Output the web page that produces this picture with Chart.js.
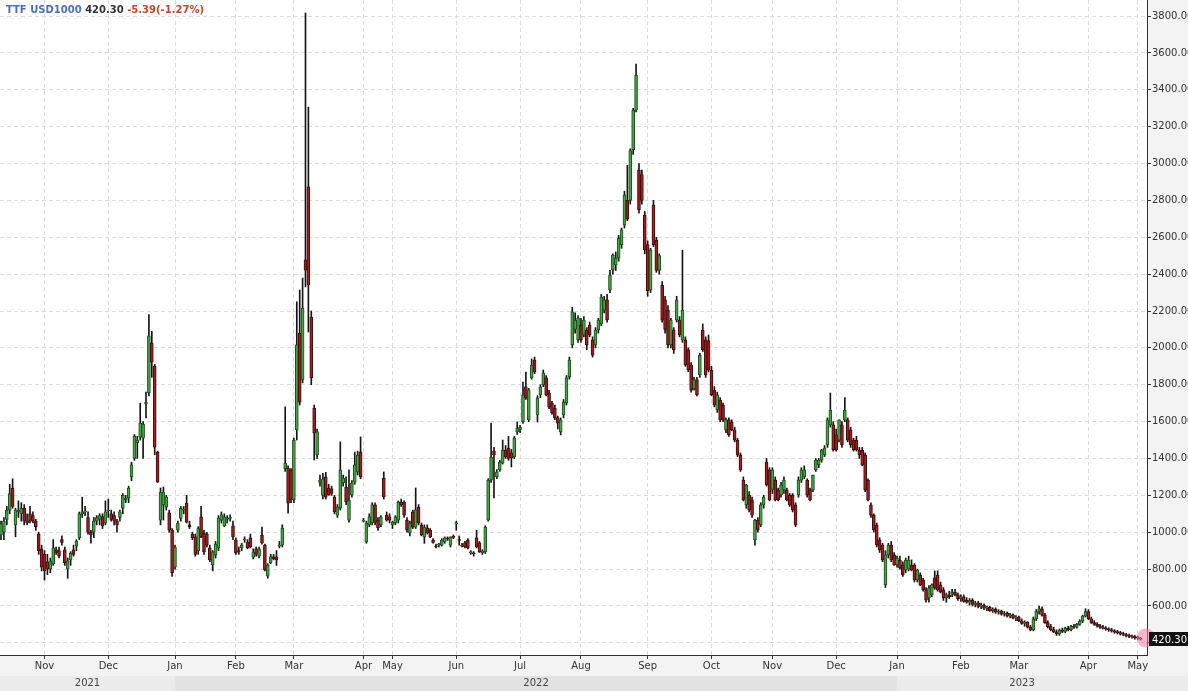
<!DOCTYPE html>
<html>
<head>
<meta charset="utf-8">
<script src="https://cdn.jsdelivr.net/npm/chart.js@4.4.1/dist/chart.umd.min.js"></script>
<style>
html,body{margin:0;padding:0;background:#fff;overflow:hidden;}
#wrap{position:relative;width:1188px;height:691px;}
#c{position:absolute;left:0;top:0;}
#title{position:absolute;left:6px;top:3px;font:bold 10px "DejaVu Sans",sans-serif;white-space:pre;z-index:2;line-height:13px;}
#title .sym{color:#4a70b8;}
#title .px{color:#333;}
#title .chg{color:#c8432b;}
</style>
</head>
<body>
<div id="wrap">
<canvas id="c" width="1188" height="691"></canvas>
<div id="title"><span class="sym">TTF USD1000</span> <span class="px">420.30</span> <span class="chg">-5.39(-1.27%)</span></div>
</div>
<script>
const opens=[
985,1000,1070,1120,1240,1040,1110,1100,1130,1060,
1100,1090,1060,990,910,880,840,800,830,905,
900,960,905,800,850,905,925,970,1100,1110,
1080,1000,1000,1060,1070,1085,1050,1115,1100,1090,
1060,1080,1130,1175,1185,1300,1400,1485,1515,1510,
1695,1755,2026,1900,1435,1066,1148,1137,1105,1012,
810,1012,1075,1120,1158,1040,990,975,900,1083,
996,990,915,822,876,915,1066,1034,1070,1075,
1034,958,900,915,958,947,969,865,910,870,
985,930,762,833,866,866,925,930,1345,1348,
1338,1175,1555,2080,1826,2477,2873,2167,1674,1419,
1270,1200,1300,1240,1235,1191,1093,1131,1267,1245,
1066,1202,1272,1327,1435,1060,947,1039,1050,1148,
1066,1039,1294,1093,1083,1039,1050,1066,1164,1164,
1066,996,1110,1028,1137,1039,975,1023,1012,958,
925,930,930,947,965,930,975,1045,960,930,
942,958,888,885,969,942,888,893,1066,1283,
1440,1300,1338,1375,1446,1457,1430,1408,1544,1555,
1598,1788,1609,1837,1934,1636,1745,1799,1837,1755,
1701,1674,1620,1544,1636,1701,1842,2016,2100,2043,
2124,2070,2097,2124,2043,2016,2097,2130,2205,2260,
2314,2422,2450,2487,2560,2666,2800,2800,3075,3290,
2965,2940,2720,2560,2314,2775,2585,2420,2340,2260,
2205,2016,2097,2151,2151,2043,2043,1990,1907,1780,
1826,1853,2097,2043,2040,1880,1771,1663,1717,1690,
1555,1609,1598,1555,1500,1419,1283,1148,1202,1175,
958,1066,1039,1148,1381,1338,1229,1283,1229,1202,
1229,1229,1202,1202,1148,1202,1283,1300,1283,1229,
1229,1338,1365,1392,1420,1473,1582,1582,1528,1500,
1582,1609,1609,1555,1500,1500,1446,1446,1419,1283,
1148,1093,1039,958,930,714,877,930,877,822,
849,822,795,800,822,822,741,768,741,687,
643,660,752,768,714,687,643,660,665,675,
660,640,650,630,620,630,608,615,598,605,
588,592,575,583,566,572,556,562,545,552,
534,540,520,505,512,485,470,530,570,585,
550,510,488,472,460,448,468,462,478,472,
488,485,500,518,545,570,530,510,500,492,
485,480,475,470,465,458,455,448,445,438,
436,432,428,425.69];
const highs=[
1060,1080,1140,1260,1290,1130,1170,1160,1150,1100,
1140,1110,1070,1000,930,900,880,860,960,920,
920,980,920,860,895,930,960,1110,1190,1140,
1110,1010,1080,1090,1100,1100,1170,1180,1120,1110,
1070,1120,1210,1200,1250,1380,1530,1520,1700,1600,
1760,2180,2090,1910,1440,1240,1245,1200,1120,1020,
930,1060,1140,1140,1200,1060,1000,990,1030,1140,
1010,1000,930,900,950,1090,1110,1100,1090,1095,
1060,970,920,940,975,960,990,910,920,920,
1028,935,830,880,880,900,950,1040,1680,1360,
1345,1510,2250,2314,2379,3816,3306,2200,1690,1560,
1310,1320,1325,1260,1250,1200,1150,1490,1310,1300,
1338,1280,1435,1440,1517,1075,1060,1100,1160,1160,
1080,1090,1327,1110,1100,1060,1090,1170,1180,1170,
1080,1060,1120,1240,1150,1050,1040,1040,1020,965,
935,940,965,975,975,975,985,1060,980,940,
950,965,900,895,1010,950,905,1035,1290,1592,
1460,1340,1390,1500,1470,1520,1450,1520,1598,1580,
1815,1869,1780,1940,1950,1740,1800,1880,1850,1770,
1710,1690,1630,1620,1720,1850,1950,2220,2190,2175,
2160,2170,2110,2140,2060,2110,2160,2290,2280,2290,
2420,2510,2520,2610,2650,2850,2990,3080,3300,3540,
3000,2965,2740,2580,2540,2800,2600,2510,2360,2280,
2230,2160,2110,2280,2170,2530,2060,2000,1920,1840,
1840,1970,2130,2060,2070,1900,1790,1760,1730,1700,
1620,1620,1610,1570,1510,1430,1300,1260,1220,1190,
1070,1080,1160,1200,1400,1350,1350,1300,1240,1270,
1300,1240,1210,1210,1160,1300,1350,1360,1290,1240,
1310,1400,1400,1450,1470,1620,1755,1600,1560,1610,
1600,1730,1620,1570,1510,1520,1460,1460,1430,1290,
1160,1100,1050,970,940,900,940,950,890,870,
870,840,860,870,850,830,800,780,750,700,
710,720,790,790,730,700,670,680,690,690,
670,660,660,645,640,640,625,625,615,612,
600,598,590,590,580,578,570,568,560,558,
548,545,530,520,515,495,540,580,600,595,
560,520,500,485,470,475,480,485,490,495,
500,505,525,550,585,580,540,520,510,500,
495,488,482,478,472,468,462,458,452,448,
442,440,436,430];
const lows=[
960,960,1040,1100,1130,975,1080,1060,1040,1040,
1050,1050,1010,880,790,740,770,780,820,880,
860,930,820,750,820,870,900,960,1080,1090,
990,940,970,1040,1040,1020,1040,1080,1060,1040,
1000,1060,1100,1160,1160,1280,1390,1400,1500,1400,
1620,1740,1840,1420,1270,1040,1066,1120,1000,760,
800,1000,1060,1100,1050,1020,960,870,880,970,
880,920,840,790,860,900,1050,1030,1050,1060,
960,880,880,900,945,910,915,855,870,860,
935,790,750,830,850,820,915,920,1330,1104,
1160,1160,1500,1690,1810,2330,2086,1800,1392,1400,
1250,1180,1180,1200,1200,1100,1080,1120,1250,1150,
1055,1190,1260,1310,1290,1055,940,1030,1040,1040,
1010,1030,1180,1060,1050,1020,1040,1050,1140,1080,
1000,980,1020,1020,1040,980,940,990,970,940,
915,920,925,940,955,920,965,1010,930,920,
915,910,880,870,915,890,880,885,1060,1270,
1186,1290,1330,1370,1400,1390,1354,1400,1530,1540,
1590,1720,1600,1830,1860,1598,1730,1790,1740,1670,
1640,1610,1560,1528,1620,1690,1830,2000,2080,2030,
2030,2060,1990,2060,1950,2000,2080,2120,2190,2140,
2300,2400,2420,2470,2540,2650,2690,2780,3050,3280,
2730,2780,2510,2280,2300,2550,2410,2400,2140,2080,
2000,2000,1970,2140,2060,2030,1900,1870,1760,1770,
1740,1840,1980,1840,1870,1740,1680,1650,1600,1600,
1540,1520,1550,1490,1410,1330,1170,1130,1110,1080,
930,1000,1030,1130,1250,1170,1210,1170,1170,1190,
1210,1170,1140,1110,1030,1190,1270,1290,1190,1170,
1220,1330,1350,1380,1410,1460,1570,1440,1440,1490,
1460,1600,1490,1460,1440,1440,1400,1360,1220,1170,
1080,1000,920,890,840,700,860,840,820,810,
800,760,780,790,790,730,730,710,680,620,
620,650,690,680,670,630,620,640,650,655,
630,625,620,615,605,600,595,590,585,580,
575,570,565,560,555,550,545,540,535,530,
520,515,500,490,480,465,465,520,555,545,
505,480,465,455,440,440,455,455,465,465,
478,480,495,510,540,525,505,495,485,478,
475,468,462,458,452,448,442,438,432,428,
425,420,418,415];
const closes=[
1045,1060,1120,1210,1140,1120,1120,1130,1060,1050,
1060,1060,1030,900,810,790,800,845,915,890,
870,945,835,845,885,880,950,1100,1110,1115,
1000,985,1060,1080,1090,1035,1110,1120,1070,1060,
1040,1110,1200,1185,1240,1365,1520,1500,1590,1585,
1705,2065,1923,1462,1272,1218,1218,1191,1012,779,
920,1050,1130,1125,1055,1030,970,880,1020,975,
893,930,850,893,936,1077,1094,1083,1075,1080,
975,888,895,930,960,915,920,893,880,910,
942,795,822,866,855,850,930,1023,1375,1158,
1175,1500,2016,1706,2216,2422,2341,1837,1538,1544,
1283,1290,1190,1202,1210,1110,1137,1338,1294,1164,
1175,1267,1365,1419,1300,1066,1050,1083,1148,1055,
1023,1083,1191,1066,1066,1055,1083,1164,1148,1093,
1012,1050,1028,1121,1050,985,1028,996,975,945,
920,935,958,969,963,975,972,1045,955,925,
920,915,888,883,920,893,898,1028,1283,1408,
1420,1327,1381,1446,1410,1400,1405,1511,1565,1571,
1745,1728,1772,1907,1869,1728,1788,1864,1745,1679,
1647,1620,1592,1609,1706,1837,1934,2195,2150,2162,
2043,2151,2016,2070,1961,2097,2151,2276,2260,2151,
2395,2504,2487,2596,2640,2830,2700,3070,3290,3480,
2750,2800,2530,2310,2530,2560,2420,2500,2150,2100,
2016,2151,1990,2260,2070,2205,1907,1880,1771,1826,
1745,1960,1990,1853,1880,1745,1690,1745,1609,1609,
1609,1528,1555,1500,1419,1338,1175,1256,1121,1093,
1066,1012,1148,1191,1256,1175,1338,1175,1175,1256,
1283,1175,1148,1121,1039,1283,1338,1338,1202,1175,
1310,1392,1392,1446,1457,1609,1663,1446,1446,1609,
1473,1663,1500,1473,1446,1446,1420,1365,1229,1175,
1093,1012,931,904,850,877,930,850,822,860,
806,768,849,849,795,741,795,714,687,632,
697,714,697,687,676,643,660,650,675,660,
640,650,625,620,630,608,615,598,605,588,
592,575,583,566,572,556,562,545,552,534,
540,520,505,512,485,470,530,570,585,550,
510,488,472,460,448,468,462,478,472,488,
485,500,518,545,570,530,510,500,492,485,
480,475,470,465,458,455,448,445,438,436,
432,428,425.69,420.3];

const monthTickIdx=[15,37,60,81,101,125,135,157,179,200,223,245,266,288,309,331,351,375,392];
const monthTickLabels=['Nov','Dec','Jan','Feb','Mar','Apr','May','Jun','Jul','Aug','Sep','Oct','Nov','Dec','Jan','Feb','Mar','Apr','May'];
const yearLabels=['2021','2022','2023'];
const yMin=334, yMax=3887, yStep=200;
const xMin=-0.35, xMax=395.2;

const n=closes.length;
if(opens.length!==n||highs.length!==n||lows.length!==n){
  throw new Error('length mismatch o'+opens.length+' h'+highs.length+' l'+lows.length+' c'+n);
}
const up=i=>closes[i]>=opens[i];
const wickData=lows.map((l,i)=>({x:i,y:[l,highs[i]]}));
const bodyData=opens.map((o,i)=>({x:i,y:[o,closes[i]]}));

const GREEN='#44a544', GREEN_B='#1f4d1f', RED='#9e2020', RED_B='#3d0c0c';
const FONT='"DejaVu Sans", sans-serif';

const deco={
  id:'deco',
  beforeDraw(chart){
    const {ctx,chartArea:a,width:W,height:H,scales:{x}}=chart;
    ctx.save();
    ctx.fillStyle='#ffffff'; ctx.fillRect(0,0,W,H);
    ctx.fillStyle='#f3f3f3';
    ctx.fillRect(a.right,0,W-a.right,a.bottom);
    const bandTop=a.bottom+21;
    ctx.fillRect(0,a.bottom,W,bandTop-a.bottom);
    const breaks=monthTickIdx.filter((v,i)=>monthTickLabels[i]==='Jan').map(v=>x.getPixelForValue(v));
    const starts=[0,...breaks], ends=[...breaks,W];
    yearLabels.forEach((lab,i)=>{
      ctx.fillStyle=(i%2)?'#e2e2e2':'#ececec';
      ctx.fillRect(starts[i],bandTop,ends[i]-starts[i],H-bandTop);
      const te=Math.min(ends[i],a.right);
      ctx.fillStyle='#444'; ctx.font='10px '+FONT;
      ctx.textAlign='center'; ctx.textBaseline='middle';
      ctx.fillText(lab,(starts[i]+te)/2,(bandTop+H)/2);
    });
    ctx.restore();
  },
  afterDraw(chart){
    const {ctx,chartArea:a,width:W,scales:{y}}=chart;
    const last=closes[n-1];
    const py=Math.round(y.getPixelForValue(last));
    ctx.save();
    ctx.fillStyle='rgba(242,120,165,0.55)';
    ctx.beginPath(); ctx.arc(a.right-1,py-1,9.5,0,Math.PI*2); ctx.fill();
    ctx.fillStyle='#111';
    ctx.fillRect(a.right+2,py-7,W-a.right-2,14);
    ctx.fillStyle='#fff'; ctx.font='10px '+FONT;
    ctx.textAlign='left'; ctx.textBaseline='middle';
    ctx.fillText(last.toFixed(2),a.right+5,py+1);
    ctx.restore();
  }
};

new Chart(document.getElementById('c'),{
  type:'bar',
  data:{datasets:[
    {label:'wick',data:wickData,stack:'c',order:1,barThickness:1,backgroundColor:'#151515',borderWidth:0},
    {label:'body',data:bodyData,stack:'c',order:0,barThickness:3,minBarLength:1,borderSkipped:false,borderWidth:1,
     backgroundColor:c=>up(c.dataIndex)?GREEN:RED,
     borderColor:c=>up(c.dataIndex)?GREEN_B:RED_B}
  ]},
  options:{
    responsive:false,animation:false,events:[],
    layout:{padding:0},
    plugins:{legend:{display:false},tooltip:{enabled:false},title:{display:false}},
    scales:{
      x:{type:'linear',min:xMin,max:xMax,offset:false,
        grid:{offset:false,color:'#dcdcdc',lineWidth:1,drawTicks:true,tickLength:4,tickColor:'#333'},
        border:{display:true,color:'#333',width:1,dash:[4,3]},
        ticks:{autoSkip:false,maxRotation:0,padding:1,color:'#333',font:{family:FONT,size:10},
          callback:(v,i)=>monthTickLabels[i]},
        afterBuildTicks:s=>{s.ticks=monthTickIdx.map(v=>({value:v}));},
        afterFit:s=>{s.height=36;s.paddingLeft=0;s.paddingRight=0;}
      },
      y:{type:'linear',position:'right',min:yMin,max:yMax,beginAtZero:false,stacked:false,
        grid:{color:'#dcdcdc',lineWidth:1,tickLength:4,tickColor:'#333'},
        border:{display:true,color:'#333',width:1,dash:[4,3]},
        ticks:{stepSize:yStep,includeBounds:false,padding:1,color:'#333',font:{family:FONT,size:10},
          callback:v=>Number(v).toFixed(2)},
        afterFit:s=>{s.width=41;s.paddingTop=0;s.paddingBottom=0;}
      }
    }
  },
  plugins:[deco]
});
</script>
</body>
</html>
